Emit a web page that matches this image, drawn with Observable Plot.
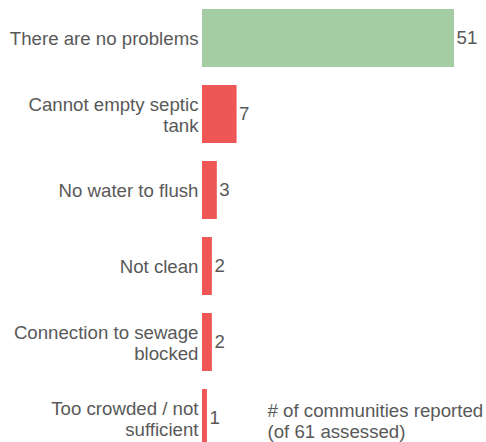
<!DOCTYPE html>
<html>
<head>
<meta charset="utf-8">
<script src="https://cdn.jsdelivr.net/npm/d3@7"></script>
<script src="https://cdn.jsdelivr.net/npm/@observablehq/plot@0.6"></script>
<style>
  html, body { margin: 0; padding: 0; background: #fff; }
  #chart { width: 486px; height: 442px; overflow: hidden; }
</style>
</head>
<body>
<div id="chart"></div>
<script>
const categories = [
  "There are no problems",
  "Cannot empty septic\ntank",
  "No water to flush",
  "Not clean",
  "Connection to sewage\nblocked",
  "Too crowded / not\nsufficient"
];
const values = [51, 7, 3, 2, 2, 1];
const groups = ["ok", "problem", "problem", "problem", "problem", "problem"];
const noteText = "# of communities reported\n(of 61 assessed)";

const data = categories.map((c, i) => ({cat: c, value: values[i], group: groups[i]}));
const textColor = "#595959";
const font = "Liberation Sans, Arial, sans-serif";

const chart = Plot.plot({
  width: 486,
  height: 442,
  marginLeft: 202,
  marginRight: 32,
  marginTop: 0,
  marginBottom: -14,
  style: {fontFamily: font, fontSize: "18.67px", color: textColor, background: "#fff"},
  x: {domain: [0, 51], axis: null},
  y: {domain: categories, axis: null, paddingInner: 0.237, paddingOuter: 0.118},
  color: {domain: ["ok", "problem"], range: ["#a5cda4", "#ef5757"]},
  marks: [
    Plot.barX(data, {x: "value", y: "cat", fill: "group"}),
    Plot.text(data, {x: 0, y: "cat", text: "cat", textAnchor: "end", dx: -4,
      fill: textColor, fontSize: 18.67, lineHeight: 1.125}),
    Plot.text(data, {x: "value", y: "cat", text: d => String(d.value), textAnchor: "start", dx: 2,
      fill: textColor, fontSize: 18.67}),
    Plot.text([noteText], {y: () => categories[categories.length - 1], frameAnchor: "right",
      text: d => d, textAnchor: "start", dx: -187, dy: 2, fill: textColor, fontSize: 18.67, lineHeight: 1.125})
  ]
});
document.getElementById("chart").appendChild(chart);
</script>
</body>
</html>
